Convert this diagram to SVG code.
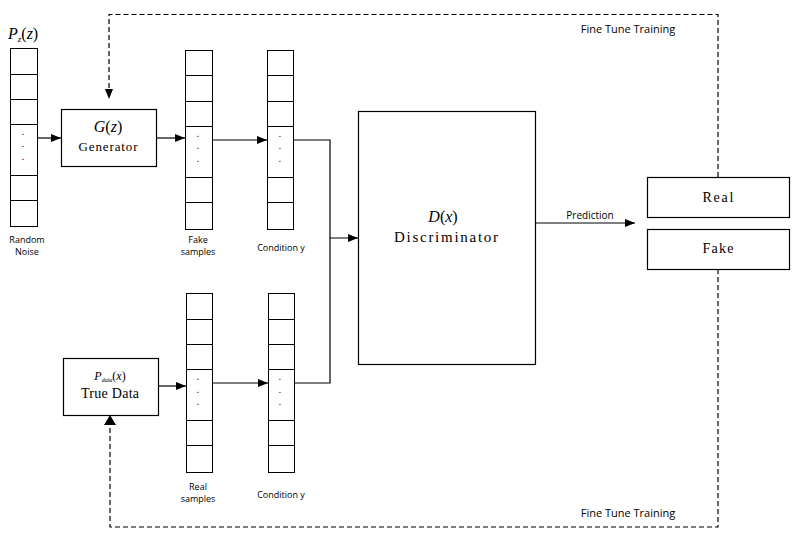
<svg xmlns="http://www.w3.org/2000/svg" width="796" height="535" viewBox="0 0 796 535">
<defs>
<marker id="ah" markerWidth="10" markerHeight="8" refX="10" refY="4" orient="auto" markerUnits="userSpaceOnUse">
<path d="M0,0 L10,4 L0,8 Z" fill="#000"/>
</marker>
<style>
.box{fill:#fff;stroke:#000;stroke-width:1.2}
.cell{fill:#fff;stroke:#000;stroke-width:1}
.ln{fill:none;stroke:#000;stroke-width:1.2}
.dash{fill:none;stroke:#000;stroke-width:1.2;stroke-dasharray:5,3}
.mono{font-family:"Liberation Serif","DejaVu Serif",serif;font-size:14px;fill:#000;text-anchor:middle}
.math{font-family:"Liberation Serif","DejaVu Serif",serif;font-style:italic;font-size:16px;fill:#000;text-anchor:middle}
.lbl{font-family:"Open Sans","Liberation Sans",sans-serif;font-size:9px;fill:#000;text-anchor:middle}
.ft{font-family:"Open Sans","Liberation Sans",sans-serif;font-size:11px;fill:#000;text-anchor:middle}
.dot{font-family:"Liberation Sans",sans-serif;font-size:10px;fill:#000;text-anchor:middle}
</style>
</defs>
<rect width="796" height="535" fill="#fff"/>

<g id="connectors">
<path class="dash" d="M718,177 V14.5 H109 V99" marker-end="url(#ah)"/>
<path class="dash" d="M718,269 V527 H110 V425"/>
<path d="M104,425 L110,415 L116,425 Z" fill="#000"/>
<path class="ln" d="M37,138 H61" marker-end="url(#ah)"/>
<path class="ln" d="M156,138 H185" marker-end="url(#ah)"/>
<path class="ln" d="M212,140 H267" marker-end="url(#ah)"/>
<path class="ln" d="M293,140 H330 V238 H358" marker-end="url(#ah)"/>
<path class="ln" d="M294,383 H330 V238"/>
<path class="ln" d="M158,386 H186" marker-end="url(#ah)"/>
<path class="ln" d="M212,383 H268" marker-end="url(#ah)"/>
<path class="ln" d="M536,223 H635" marker-end="url(#ah)"/>
<text class="lbl" x="590" y="219" style="font-size:10px">Prediction</text>
<text class="ft" x="628" y="33">Fine Tune Training</text>
<text class="ft" x="628" y="517">Fine Tune Training</text>
</g>

<g id="noise">
<text x="8" y="39" style="font-family:'Liberation Serif',serif;font-style:italic;font-size:16px">P<tspan font-size="9" dy="3">z</tspan><tspan dy="-3" style="font-style:normal">(</tspan>z<tspan style="font-style:normal">)</tspan></text>
<rect class="cell" x="10.5" y="48.5" width="27" height="26"/>
<rect class="cell" x="10.5" y="74.5" width="27" height="25"/>
<rect class="cell" x="10.5" y="99.5" width="27" height="25"/>
<rect class="cell" x="10.5" y="124.5" width="27" height="51"/>
<rect class="cell" x="10.5" y="175.5" width="27" height="25"/>
<rect class="cell" x="10.5" y="200.5" width="27" height="26"/>
<text class="dot" x="23" y="135">.</text><text class="dot" x="23" y="147">.</text><text class="dot" x="23" y="160">.</text>
<text class="lbl" x="27" y="243">Random</text>
<text class="lbl" x="27" y="255">Noise</text>
</g>

<g id="generator">
<rect class="box" x="61.5" y="109.5" width="95" height="57"/>
<text class="math" x="108" y="132">G<tspan style="font-style:normal">(</tspan>z<tspan style="font-style:normal">)</tspan></text>
<text class="mono" x="108" y="151" style="font-size:13px" textLength="59" lengthAdjust="spacing">Generator</text>
</g>

<g id="fake-samples">
<rect class="cell" x="185.5" y="50.5" width="27" height="25"/>
<rect class="cell" x="185.5" y="75.5" width="27" height="26"/>
<rect class="cell" x="185.5" y="101.5" width="27" height="25"/>
<rect class="cell" x="185.5" y="126.5" width="27" height="51"/>
<rect class="cell" x="185.5" y="177.5" width="27" height="25"/>
<rect class="cell" x="185.5" y="202.5" width="27" height="27"/>
<text class="dot" x="198" y="137">.</text><text class="dot" x="198" y="149">.</text><text class="dot" x="198" y="162">.</text>
<text class="lbl" x="198" y="243">Fake</text>
<text class="lbl" x="198" y="255">samples</text>
</g>

<g id="condition-top">
<rect class="cell" x="267.5" y="50.5" width="26" height="25"/>
<rect class="cell" x="267.5" y="75.5" width="26" height="26"/>
<rect class="cell" x="267.5" y="101.5" width="26" height="25"/>
<rect class="cell" x="267.5" y="126.5" width="26" height="51"/>
<rect class="cell" x="267.5" y="177.5" width="26" height="25"/>
<rect class="cell" x="267.5" y="202.5" width="26" height="27"/>
<text class="dot" x="280" y="137">.</text><text class="dot" x="280" y="149">.</text><text class="dot" x="280" y="162">.</text>
<text class="lbl" x="281" y="251">Condition y</text>
</g>

<g id="true-data">
<rect class="box" x="63.5" y="358.5" width="95" height="57"/>
<text x="110" y="380" style="font-family:'Liberation Serif',serif;font-style:italic;font-size:12px;text-anchor:middle">P<tspan font-size="6" dy="2">data</tspan><tspan dy="-2" style="font-style:normal">(</tspan>x<tspan style="font-style:normal">)</tspan></text>
<text class="mono" x="110" y="398" textLength="58" lengthAdjust="spacing">True Data</text>
</g>

<g id="real-samples">
<rect class="cell" x="186.5" y="293.5" width="26" height="26"/>
<rect class="cell" x="186.5" y="319.5" width="26" height="25"/>
<rect class="cell" x="186.5" y="344.5" width="26" height="25"/>
<rect class="cell" x="186.5" y="369.5" width="26" height="51"/>
<rect class="cell" x="186.5" y="420.5" width="26" height="25"/>
<rect class="cell" x="186.5" y="445.5" width="26" height="27"/>
<text class="dot" x="198" y="380">.</text><text class="dot" x="198" y="393">.</text><text class="dot" x="198" y="405">.</text>
<text class="lbl" x="198" y="490">Real</text>
<text class="lbl" x="198" y="502">samples</text>
</g>

<g id="condition-bottom">
<rect class="cell" x="268.5" y="293.5" width="26" height="26"/>
<rect class="cell" x="268.5" y="319.5" width="26" height="25"/>
<rect class="cell" x="268.5" y="344.5" width="26" height="25"/>
<rect class="cell" x="268.5" y="369.5" width="26" height="51"/>
<rect class="cell" x="268.5" y="420.5" width="26" height="25"/>
<rect class="cell" x="268.5" y="445.5" width="26" height="27"/>
<text class="dot" x="280" y="380">.</text><text class="dot" x="280" y="393">.</text><text class="dot" x="280" y="405">.</text>
<text class="lbl" x="281" y="498">Condition y</text>
</g>

<g id="discriminator">
<rect class="box" x="358.5" y="111.5" width="177" height="253"/>
<text class="math" x="443" y="222">D<tspan style="font-style:normal">(</tspan>x<tspan style="font-style:normal">)</tspan></text>
<text class="mono" x="446" y="242" style="font-size:15px" textLength="104" lengthAdjust="spacing">Discriminator</text>
</g>

<g id="real">
<rect class="box" x="647.5" y="177.5" width="142" height="40"/>
<text class="mono" x="718" y="202" textLength="31" lengthAdjust="spacing">Real</text>
</g>

<g id="fake">
<rect class="box" x="647.5" y="229.5" width="142" height="40"/>
<text class="mono" x="718" y="253" textLength="31" lengthAdjust="spacing">Fake</text>
</g>
</svg>
